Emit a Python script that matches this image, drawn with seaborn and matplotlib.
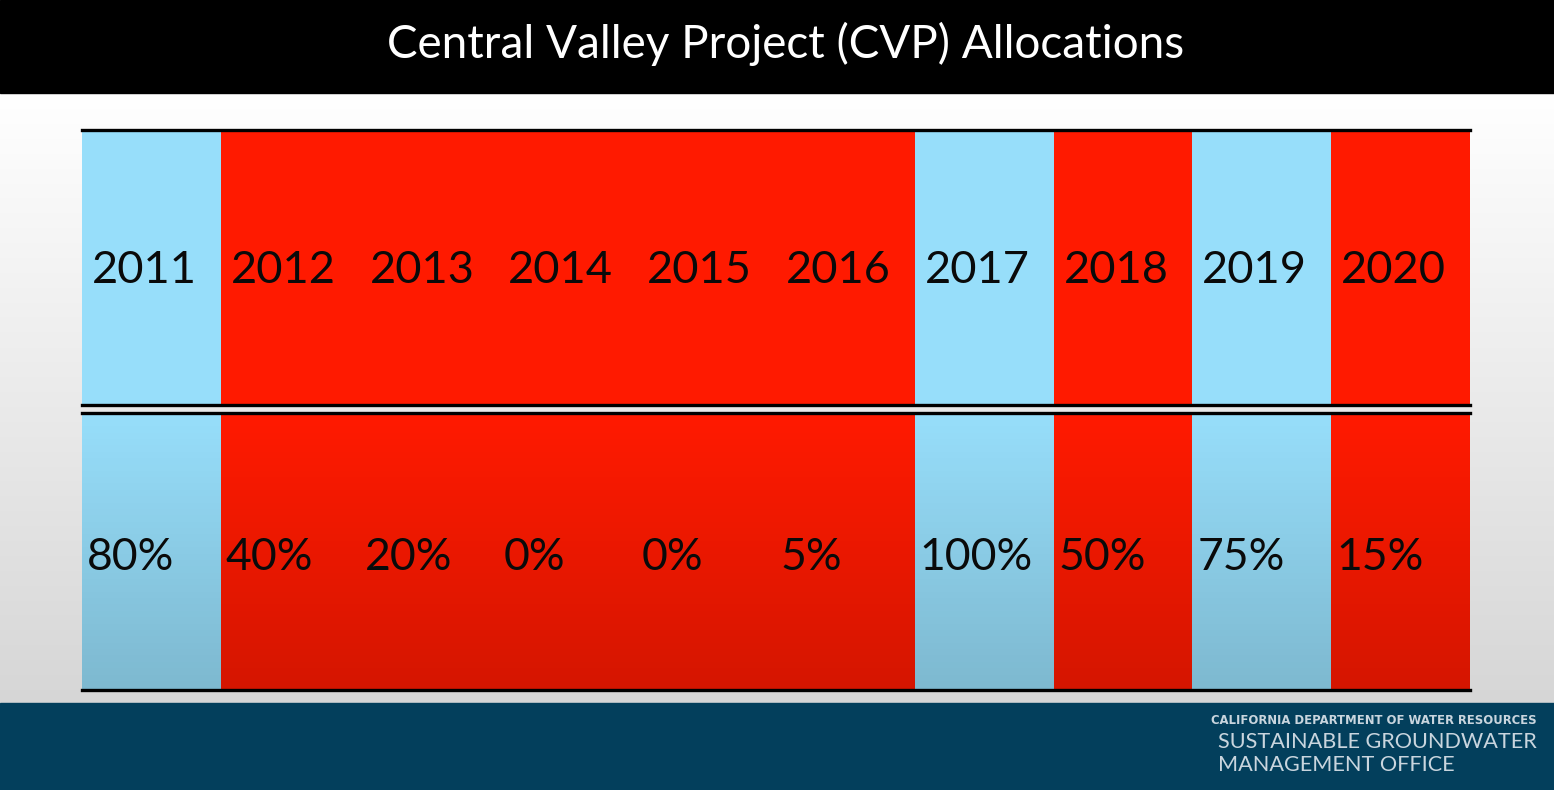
import matplotlib
matplotlib.use("Agg")
import matplotlib.pyplot as plt
import seaborn as sns
import numpy as np
import pandas as pd
from matplotlib.colors import ListedColormap

years = ["2011", "2012", "2013", "2014", "2015", "2016", "2017", "2018", "2019", "2020"]
allocations = ["80%", "40%", "20%", "0%", "0%", "5%", "100%", "50%", "75%", "15%"]
year_type = ["wet", "dry", "dry", "dry", "dry", "dry", "wet", "dry", "wet", "dry"]

title = "Central Valley Project (CVP) Allocations"
footer_small = "CALIFORNIA DEPARTMENT OF WATER RESOURCES"
footer_big = ["SUSTAINABLE GROUNDWATER", "MANAGEMENT OFFICE"]

W, H = 1554, 790
BLUE, RED = "#97defa", "#ff1a00"
cmap = ListedColormap([BLUE, RED])

sns.set_theme(style="white")
plt.rcParams["font.family"] = ["Lato", "DejaVu Sans"]

fig = plt.figure(figsize=(W / 100, H / 100), dpi=100)

# background: slide gradient, black header, blue footer
bg = fig.add_axes([0, 0, 1, 1], zorder=-5)
bg.set_xlim(0, W)
bg.set_ylim(H, 0)
bg.axis("off")
grad = np.linspace(1.0, 0.84, 256).reshape(-1, 1)
bg.imshow(np.dstack([grad, grad, grad]), extent=(0, W, 703, 93), aspect="auto")
bg.add_patch(plt.Rectangle((0, 0), W, 93, color="black"))
bg.add_patch(plt.Rectangle((0, 703), W, H - 703, color="#033f5c"))
bg.text(786, 44, title, color="white", fontsize=33, ha="center", va="center")
bg.text(1537, 721, footer_small, color="#c9d5de", fontsize=8.4, fontweight="bold",
        family="DejaVu Sans", ha="right", va="center")
bg.text(1218, 742, footer_big[0], color="#c9d5de", fontsize=15.6, ha="left", va="center")
bg.text(1218, 765, footer_big[1], color="#c9d5de", fontsize=15.6, ha="left", va="center")

codes = pd.DataFrame([[0 if t == "wet" else 1 for t in year_type]], columns=years)


def row_axes(top_px, bottom_px):
    ax = fig.add_axes([82 / W, 1 - bottom_px / H, 1388 / W, (bottom_px - top_px) / H])
    sns.heatmap(codes, cmap=cmap, vmin=0, vmax=1, cbar=False, ax=ax,
                xticklabels=False, yticklabels=False)
    for s in ["left", "right"]:
        ax.spines[s].set_visible(False)
    for s in ["top", "bottom"]:
        ax.spines[s].set_visible(True)
        ax.spines[s].set_color("black")
        ax.spines[s].set_linewidth(2.4)
    return ax


ax_top = row_axes(130, 405)
for i, y in enumerate(years):
    ax_top.text(i + 0.45, 0.51, y, fontsize=32.5, ha="center", va="center", color="#0a0a0a")

ax_bot = row_axes(413, 690)
# darker shading toward the bottom of the lower row
shade = np.zeros((256, 1, 4))
shade[:, 0, 3] = np.linspace(0.0, 0.17, 256)
ax_bot.imshow(shade, extent=(0, 10, 1, 0), aspect="auto", zorder=2)
ax_bot.set_xlim(0, 10)
ax_bot.set_ylim(1, 0)
for i, a in enumerate(allocations):
    ax_bot.text(i + 0.035, 0.52, a, fontsize=32, ha="left", va="center", color="#0a0a0a", zorder=3)

fig.savefig("out.png", dpi=100)
